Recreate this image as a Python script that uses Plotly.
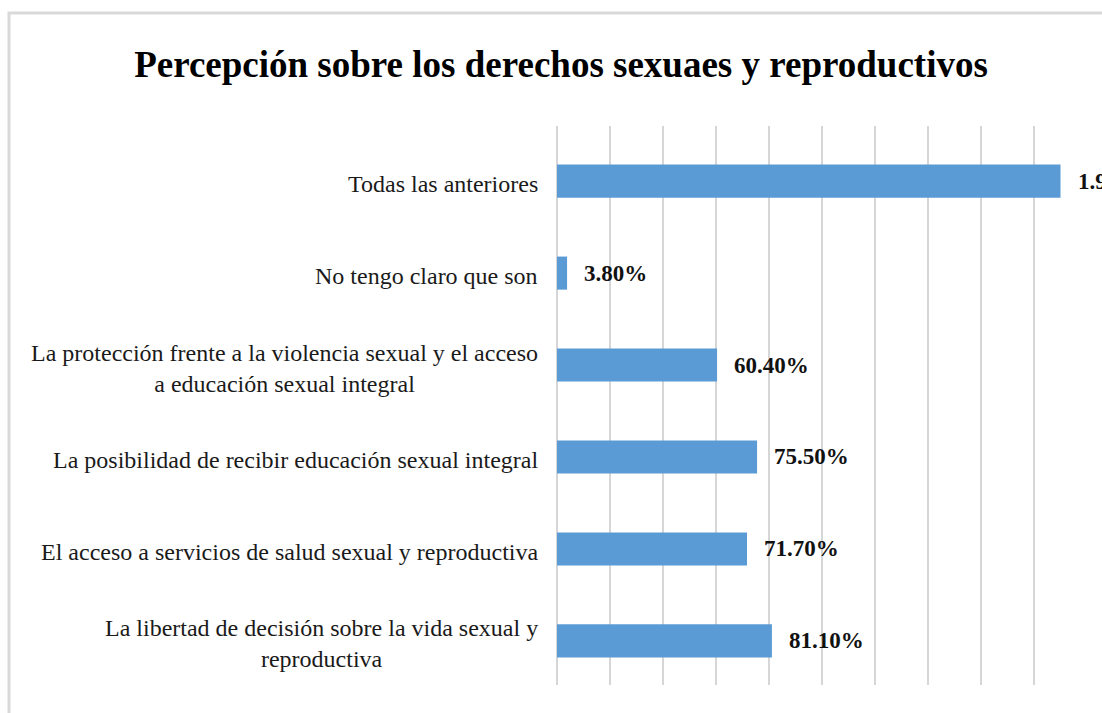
import plotly.graph_objects as go

# Survey responses, listed bottom to top as they appear on the chart
categories = [
    "La libertad de decisión sobre la vida sexual y<br>reproductiva",
    "El acceso a servicios de salud sexual y reproductiva",
    "La posibilidad de recibir educación sexual integral",
    "La protección frente a la violencia sexual y el acceso<br>a educación sexual integral",
    "No tengo claro que son",
    "Todas las anteriores",
]
values = [0.811, 0.717, 0.755, 0.604, 0.038, 1.9]
value_labels = ["81.10%", "71.70%", "75.50%", "60.40%", "3.80%", "1.90"]

title_text = "Percepción sobre los derechos sexuaes y reproductivos"

SERIF = "Liberation Serif, Times New Roman, serif"
BAR_COLOR = "#5B9BD5"
GRID_COLOR = "#d6d6d6"

W, H = 1102, 713
L, R, T, B = 557, 15, 126, 28
plot_w = W - L - R
plot_h = H - T - B

fig = go.Figure(
    go.Bar(
        x=values,
        y=categories,
        orientation="h",
        marker=dict(color=BAR_COLOR, line=dict(width=0)),
        hoverinfo="skip",
    )
)

annotations = []
# category labels, centred block right-aligned against the axis
for cat in categories:
    annotations.append(dict(
        xref="paper", yref="y", x=0, y=cat,
        xanchor="right", yanchor="middle", xshift=-17, yshift=-3,
        text=cat, showarrow=False, align="center",
        font=dict(family=SERIF, size=24, color="#1a1a1a"),
    ))
# value labels beside each bar
for cat, v, lab in zip(categories, values, value_labels):
    annotations.append(dict(
        xref="x", yref="y", x=v, y=cat,
        xanchor="left", yanchor="middle", xshift=15,
        text=f"<b>{lab}</b>", showarrow=False,
        font=dict(family=SERIF, size=23, color="#111111"),
    ))

# light chart-area frame
frame = dict(
    type="rect", xref="paper", yref="paper",
    x0=(9 - L) / plot_w, x1=(W + 20 - L) / plot_w,
    y0=-(B + 20) / plot_h, y1=(H - B - 13) / plot_h,
    line=dict(color="#d9d9d9", width=3), fillcolor="rgba(0,0,0,0)",
    layer="below",
)

fig.update_layout(
    width=W, height=H,
    margin=dict(l=L, r=R, t=T, b=B, pad=0),
    paper_bgcolor="white", plot_bgcolor="white",
    bargap=0.64,
    showlegend=False,
    title=dict(
        text=f"<b>{title_text}</b>",
        x=561 / W, y=1 - 64 / H, xref="container", yref="container",
        xanchor="center", yanchor="middle",
        font=dict(family=SERIF, size=37, color="#000000"),
    ),
    xaxis=dict(
        range=[0, 2.0], dtick=0.2, showgrid=True, gridcolor=GRID_COLOR,
        gridwidth=2, zeroline=True, zerolinecolor=GRID_COLOR, zerolinewidth=2,
        showticklabels=False, ticks="", showline=False, fixedrange=True,
    ),
    yaxis=dict(
        range=[-0.48, 5.6],
        showticklabels=False, ticks="", showgrid=False, zeroline=False,
        showline=False, fixedrange=True,
    ),
    annotations=annotations,
    shapes=[frame],
)

fig.write_html("out.html", config={"displayModeBar": False})
